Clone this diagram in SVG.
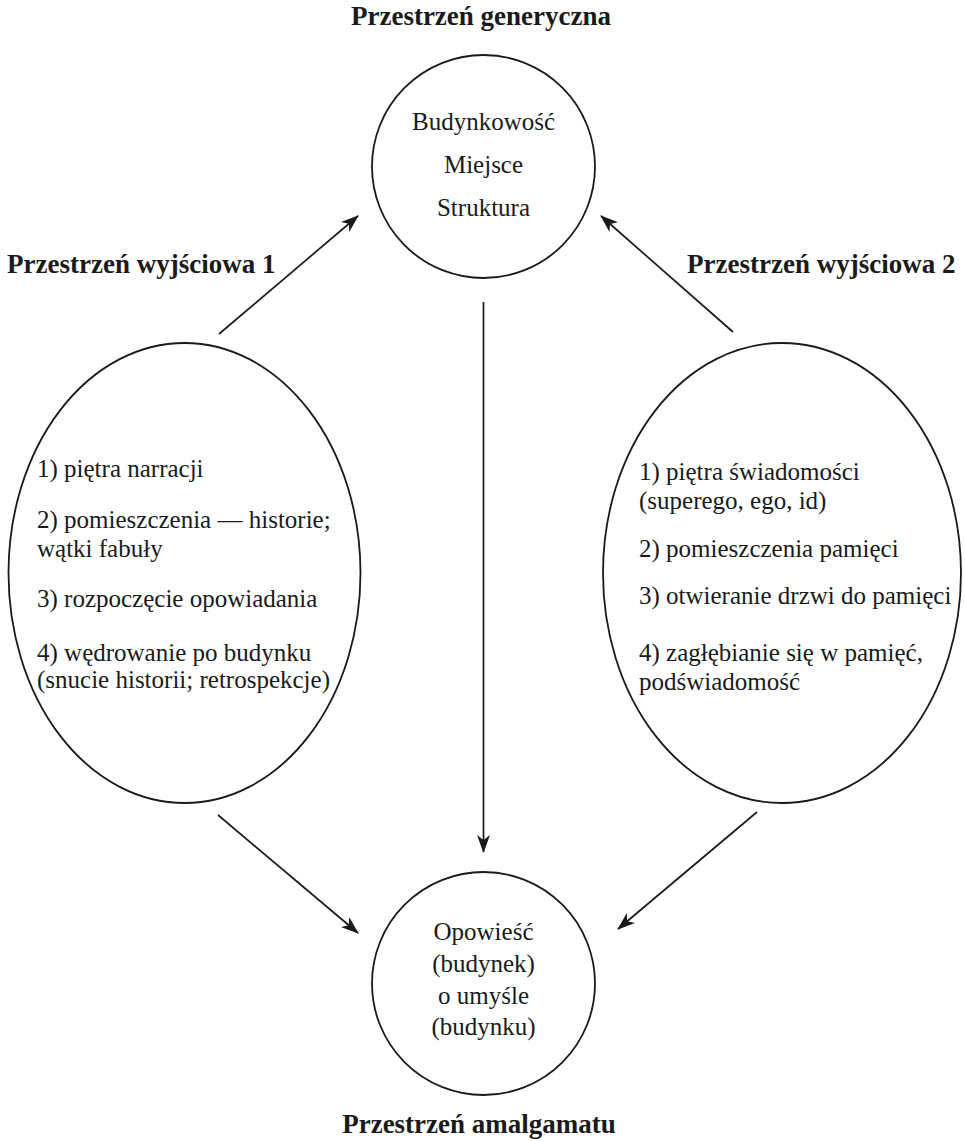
<svg xmlns="http://www.w3.org/2000/svg" width="965" height="1141" viewBox="0 0 965 1141">
  <style>
    .shape { fill: none; stroke: #1a1a1a; stroke-width: 1.8; }
    .edge { fill: none; stroke: #1a1a1a; stroke-width: 1.7; }
    text { font-family: 'Liberation Serif', 'Times New Roman', serif; fill: #1a1a1a; }
    .title { font-weight: bold; font-size: 27px; }
    .body { font-size: 25px; }
    .mid { text-anchor: middle; }
  </style>
  <defs>
    <marker id="arrow" viewBox="0 0 18 13" refX="17" refY="6.5" markerWidth="18" markerHeight="13" markerUnits="userSpaceOnUse" orient="auto">
      <path d="M0,0 L18,6.5 L0,13 L5,6.5 Z" fill="#1a1a1a"/>
    </marker>
  </defs>
  <rect width="965" height="1141" fill="#ffffff"/>

  <!-- generic space -->
  <g id="generic">
    <text class="title mid" x="481" y="25">Przestrzeń generyczna</text>
    <circle class="shape" cx="483.5" cy="166.5" r="111.5"/>
    <text class="body mid" x="483.5" y="130">Budynkowość</text>
    <text class="body mid" x="483.5" y="173">Miejsce</text>
    <text class="body mid" x="483.5" y="216">Struktura</text>
  </g>

  <!-- input space 1 -->
  <g id="input1">
    <text class="title" x="7" y="273">Przestrzeń wyjściowa 1</text>
    <ellipse class="shape" cx="184.5" cy="573" rx="176" ry="230"/>
    <text class="body" x="37" y="477">1) piętra narracji</text>
    <text class="body" x="37" y="528">2) pomieszczenia — historie;</text>
    <text class="body" x="37" y="557">wątki fabuły</text>
    <text class="body" x="37" y="607">3) rozpoczęcie opowiadania</text>
    <text class="body" x="37" y="661">4) wędrowanie po budynku</text>
    <text class="body" x="37" y="688">(snucie historii; retrospekcje)</text>
  </g>

  <!-- input space 2 -->
  <g id="input2">
    <text class="title" x="687" y="273">Przestrzeń wyjściowa 2</text>
    <ellipse class="shape" cx="782" cy="573" rx="179" ry="230"/>
    <text class="body" x="639" y="480">1) piętra świadomości</text>
    <text class="body" x="639" y="509">(superego, ego, id)</text>
    <text class="body" x="639" y="557">2) pomieszczenia pamięci</text>
    <text class="body" x="639" y="604">3) otwieranie drzwi do pamięci</text>
    <text class="body" x="639" y="661">4) zagłębianie się w pamięć,</text>
    <text class="body" x="639" y="690">podświadomość</text>
  </g>

  <!-- blended space -->
  <g id="blend">
    <circle class="shape" cx="483.5" cy="983.5" r="111.5"/>
    <text class="body mid" x="483.5" y="940">Opowieść</text>
    <text class="body mid" x="483.5" y="972">(budynek)</text>
    <text class="body mid" x="483.5" y="1004">o umyśle</text>
    <text class="body mid" x="483.5" y="1035">(budynku)</text>
    <text class="title mid" x="479" y="1133">Przestrzeń amalgamatu</text>
  </g>

  <!-- projections between spaces -->
  <g id="connectors">
    <line class="edge" x1="219" y1="334" x2="358" y2="216" marker-end="url(#arrow)"/>
    <line class="edge" x1="733" y1="332" x2="601" y2="216" marker-end="url(#arrow)"/>
    <line class="edge" x1="483.5" y1="302" x2="483.5" y2="852" marker-end="url(#arrow)"/>
    <line class="edge" x1="218" y1="815" x2="358" y2="933" marker-end="url(#arrow)"/>
    <line class="edge" x1="757" y1="812" x2="618" y2="929" marker-end="url(#arrow)"/>
  </g>
</svg>
